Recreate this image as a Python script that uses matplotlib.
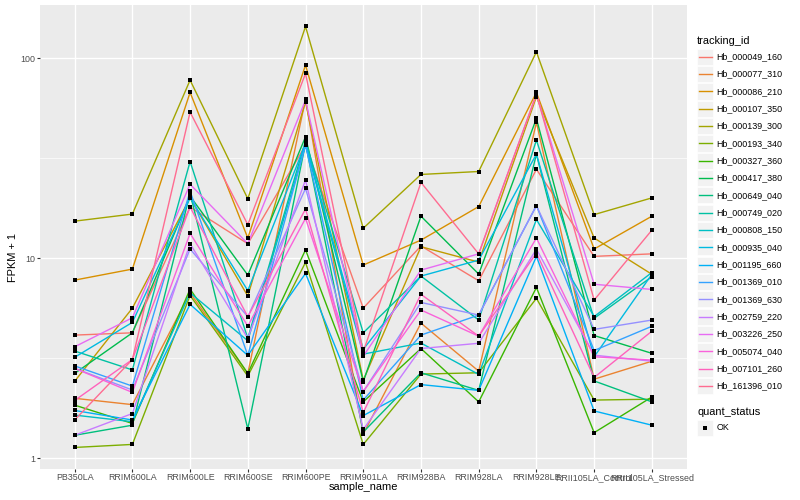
import numpy as np
import matplotlib
matplotlib.use("Agg")
import matplotlib.pyplot as plt
from matplotlib.patches import Rectangle
from matplotlib.lines import Line2D
from matplotlib.ticker import FixedLocator, NullFormatter

plt.rcParams['font.family'] = ['Liberation Sans', 'DejaVu Sans']

samples = ["PB350LA", "RRIM600LA", "RRIM600LE", "RRIM600SE", "RRIM600PE",
           "RRIM901LA", "RRIM928BA", "RRIM928LA", "RRIM928LE",
           "RRII105LA_Control", "RRII105LA_Stressed"]

tracking_ids = ["Hb_000049_160", "Hb_000077_310", "Hb_000086_210", "Hb_000107_350",
                "Hb_000139_300", "Hb_000193_340", "Hb_000327_360", "Hb_000417_380",
                "Hb_000649_040", "Hb_000749_020", "Hb_000808_150", "Hb_000935_040",
                "Hb_001195_660", "Hb_001369_010", "Hb_001369_630", "Hb_002759_220",
                "Hb_003226_250", "Hb_005074_040", "Hb_007101_260", "Hb_161396_010"]

colors = ["#F8766D", "#EA8331", "#D89000", "#C09B00", "#A3A500", "#7CAE00",
          "#39B600", "#00BB4E", "#00BF7D", "#00C1A3", "#00BFC4", "#00BAE0",
          "#00B0F6", "#35A2FF", "#9590FF", "#C77CFF", "#E76BF3", "#FA62DB",
          "#FF62BC", "#FF6C91"]

# FPKM + 1 per sample, one list per tracking_id
hb_000049_160 = [4.12, 4.23, 18.0, 11.8, 36.7, 5.62, 11.5, 7.7, 27.8, 10.2, 10.5]
hb_000077_310 = [1.99, 1.85, 6.7, 2.65, 62.4, 1.32, 4.73, 2.72, 47.7, 2.48, 3.05]
hb_000086_210 = [7.76, 8.81, 67.4, 12.6, 92.3, 9.23, 12.3, 18.1, 67.4, 11.1, 16.2]
hb_000107_350 = [2.42, 5.62, 20.0, 6.46, 60.5, 2.45, 11.4, 9.55, 64.1, 12.6, 8.3]
hb_000139_300 = [15.3, 16.6, 77.6, 19.8, 144.0, 14.1, 26.2, 27.1, 107.5, 16.5, 20.0]
hb_000193_340 = [1.13, 1.17, 6.5, 2.57, 9.52, 1.17, 2.63, 2.67, 6.29, 1.95, 1.97]
hb_000327_360 = [1.84, 1.49, 7.0, 2.65, 11.0, 1.91, 3.53, 1.91, 7.13, 1.34, 2.02]
hb_000417_380 = [2.65, 4.23, 20.4, 8.22, 40.4, 2.41, 16.2, 8.32, 49.9, 4.1, 3.34]
hb_000649_040 = [1.30, 1.46, 21.1, 1.40, 37.5, 1.35, 2.67, 2.18, 33.1, 2.43, 1.91]
hb_000749_020 = [3.43, 2.76, 30.4, 3.97, 38.6, 4.23, 8.13, 4.90, 38.9, 5.0, 8.07]
hb_000808_150 = [1.64, 1.52, 6.7, 3.86, 36.7, 3.31, 3.76, 2.62, 15.6, 5.1, 8.47]
hb_000935_040 = [3.19, 4.77, 20.0, 6.88, 37.5, 3.50, 8.13, 9.77, 33.1, 3.21, 8.3]
hb_001195_660 = [1.73, 1.55, 5.87, 3.26, 8.38, 1.63, 2.33, 2.18, 10.2, 1.72, 1.46]
hb_001369_010 = [2.89, 2.29, 21.6, 3.26, 36.7, 1.95, 4.12, 5.19, 18.3, 3.45, 4.56]
hb_001369_630 = [2.81, 2.19, 11.1, 5.09, 22.3, 2.15, 6.0, 5.19, 18.3, 4.4, 4.9]
hb_002759_220 = [1.30, 1.67, 11.8, 3.97, 24.6, 1.39, 3.53, 3.75, 11.1, 3.27, 3.05]
hb_003226_250 = [3.60, 5.03, 23.4, 11.8, 61.7, 3.23, 8.71, 10.5, 66.0, 7.4, 6.97]
hb_005074_040 = [2.81, 2.13, 13.3, 4.57, 15.8, 2.15, 5.50, 4.07, 12.6, 3.21, 3.09]
hb_007101_260 = [1.94, 3.11, 18.0, 5.09, 17.6, 1.69, 6.59, 4.07, 10.6, 2.53, 4.31]
hb_161396_010 = [1.55, 3.11, 53.7, 14.7, 83.8, 3.40, 23.9, 10.5, 66.0, 6.17, 13.8]

series = [hb_000049_160, hb_000077_310, hb_000086_210, hb_000107_350, hb_000139_300,
          hb_000193_340, hb_000327_360, hb_000417_380, hb_000649_040, hb_000749_020,
          hb_000808_150, hb_000935_040, hb_001195_660, hb_001369_010, hb_001369_630,
          hb_002759_220, hb_003226_250, hb_005074_040, hb_007101_260, hb_161396_010]

yticks = [1, 10, 100]
ytick_labels = ["1", "10", "100"]

W, H = 800, 500
fig = plt.figure(figsize=(8, 5), dpi=100)

# panel in pixel coords
pl, pr, pt, pb = 40, 686.5, 5.4, 468.5
ax = fig.add_axes([pl / W, 1 - pb / H, (pr - pl) / W, (pb - pt) / H])
ax.set_facecolor("#EBEBEB")
for s in ax.spines.values():
    s.set_visible(False)

x = np.arange(1, len(samples) + 1)
for vals, c in zip(series, colors):
    ax.plot(x, vals, color=c, lw=1.0, zorder=3, solid_capstyle='butt')
allx = np.concatenate([x for _ in series])
ally = np.concatenate([np.array(v) for v in series])
ax.scatter(allx, ally, marker='s', s=7, color='black', zorder=4, linewidths=0)

ax.set_yscale('log')
lo, hi = np.log10(ally.min()), np.log10(ally.max())
pad = 0.05 * (hi - lo)
ax.set_ylim(10 ** (lo - pad), 10 ** (hi + pad))
ax.set_xlim(0.4, len(samples) + 0.6)

ax.yaxis.set_major_locator(FixedLocator(yticks))
ax.set_yticklabels(ytick_labels)
ax.yaxis.set_minor_locator(FixedLocator([10 ** 0.5, 10 ** 1.5]))
ax.yaxis.set_minor_formatter(NullFormatter())
ax.set_xticks(x)
ax.set_xticklabels(samples)

ax.grid(True, which='major', color='white', lw=1.0)
ax.grid(True, which='minor', axis='y', color='white', lw=0.5)
ax.set_axisbelow(True)
ax.tick_params(axis='both', which='major', length=2.0, width=0.8, color='#333333',
               labelsize=6.4, labelcolor='#4D4D4D', pad=1.5)
ax.tick_params(axis='y', which='minor', length=0)

fig.text(13 / W, 1 - 258 / H, "FPKM + 1", rotation=90, ha='center', va='center',
         fontsize=7.9, color='black')
fig.text((pl + pr) / 2 / W, 1 - 487 / H, "sample_name", ha='center', va='center',
         fontsize=7.9, color='black')

# legend drawn on overlay axes in pixel coordinates
lg = fig.add_axes([0, 0, 1, 1], facecolor='none')
lg.set_xlim(0, W)
lg.set_ylim(H, 0)
lg.axis('off')

lg.text(697, 40.5, "tracking_id", ha='left', va='center', fontsize=7.9, color='black')
y0, dy = 56.7, 17.33
kx0, kw = 697, 16.3
for i, (tid, c) in enumerate(zip(tracking_ids, colors)):
    yc = y0 + i * dy
    lg.add_patch(Rectangle((kx0, yc - kw / 2), kw, kw, facecolor='#F2F2F2',
                           edgecolor='white', lw=0.5))
    lg.plot([kx0 + 1.5, kx0 + kw - 1.5], [yc, yc], color=c, lw=1.0)
    lg.text(716.5, yc, tid, ha='left', va='center', fontsize=6.4, color='black')

lg.text(697, 412, "quant_status", ha='left', va='center', fontsize=7.9, color='black')
lg.add_patch(Rectangle((kx0, 428 - kw / 2), kw, kw, facecolor='#F2F2F2',
                       edgecolor='white', lw=0.5))
lg.scatter([kx0 + kw / 2], [428], marker='s', s=7, color='black', linewidths=0)
lg.text(716.5, 428, "OK", ha='left', va='center', fontsize=6.4, color='black')

fig.savefig("out.png", dpi=100)
